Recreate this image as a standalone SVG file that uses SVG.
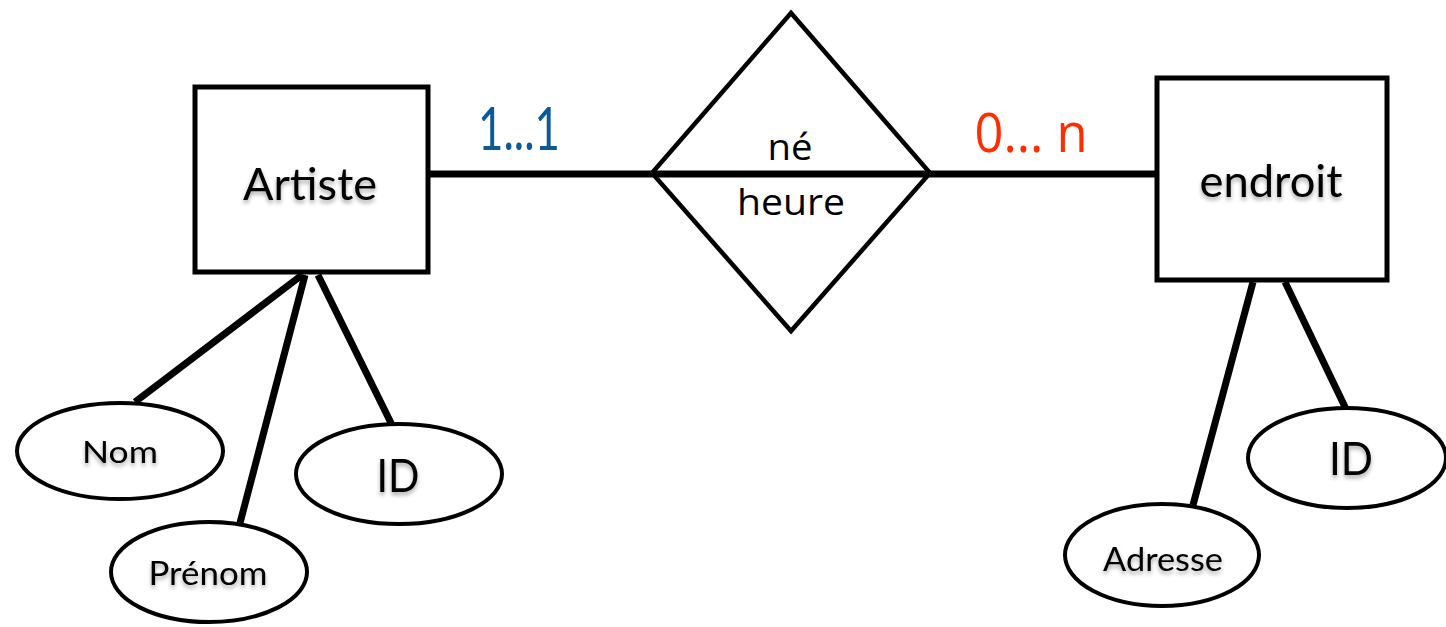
<svg xmlns="http://www.w3.org/2000/svg" width="1446" height="627" viewBox="0 0 1446 627">
<defs>
<filter id="sh" x="-20%" y="-30%" width="140%" height="170%">
<feDropShadow dx="0" dy="3" stdDeviation="2" flood-color="#000" flood-opacity="0.35"/>
</filter>
<style>
.box{fill:#fff;stroke:#000;stroke-width:5}
.ell{fill:#fff;stroke:#000;stroke-width:4}
.dia{fill:#fff;stroke:#000;stroke-width:4.5;stroke-linejoin:miter}
.con{stroke:#000;stroke-width:7;stroke-linecap:butt;fill:none}
.gs{font-family:Lato,"Liberation Sans",sans-serif;text-anchor:middle;fill:#000;filter:url(#sh)}
.os{font-family:"Open Sans","Liberation Sans",sans-serif;text-anchor:middle;fill:#000}
</style>
</defs>
<rect width="1446" height="627" fill="#fff"/>
<g id="connectors">
<line class="con" x1="302" y1="275" x2="135" y2="402"/>
<line class="con" x1="305" y1="275" x2="240" y2="523"/>
<line class="con" x1="318" y1="275" x2="392" y2="425"/>
<line class="con" x1="1253" y1="282" x2="1193" y2="505"/>
<line class="con" x1="1285" y1="282" x2="1346" y2="409"/>
</g>
<g id="relation">
<polygon class="dia" points="791,13 652,173 791,331 930,173"/>
<text class="os" x="790" y="160" font-size="37" textLength="45" lengthAdjust="spacingAndGlyphs">né</text>
<text class="os" x="791" y="215" font-size="37" textLength="108" lengthAdjust="spacingAndGlyphs">heure</text>
</g>
<g id="main-line">
<line class="con" x1="428" y1="174" x2="1158" y2="174"/>
</g>
<g id="artiste">
<rect class="box" x="195" y="87" width="233" height="185"/>
<text class="gs" x="310" y="200" font-size="44" textLength="134" lengthAdjust="spacingAndGlyphs">Artiste</text>
</g>
<g id="endroit">
<rect class="box" x="1157" y="78" width="230" height="202"/>
<text class="gs" x="1271" y="197" font-size="44" textLength="143" lengthAdjust="spacingAndGlyphs">endroit</text>
</g>
<g id="card-left">
<text x="519" y="150" font-family="Lato,'Liberation Sans',sans-serif" font-size="60" fill="#0d5a9b" text-anchor="middle" textLength="82" lengthAdjust="spacingAndGlyphs">1...1</text>
</g>
<g id="card-right">
<text x="1031" y="152" font-family="'Open Sans','Liberation Sans',sans-serif" font-size="54" fill="#ff2d00" text-anchor="middle" textLength="113" lengthAdjust="spacingAndGlyphs">0... n</text>
</g>
<g id="nom">
<ellipse class="ell" cx="120" cy="451" rx="103" ry="48"/>
<text class="gs" x="120" y="463" font-size="30" textLength="76" lengthAdjust="spacingAndGlyphs">Nom</text>
</g>
<g id="prenom">
<ellipse class="ell" cx="209" cy="572" rx="98" ry="50"/>
<text class="gs" x="208" y="585" font-size="32" textLength="119" lengthAdjust="spacingAndGlyphs">Prénom</text>
</g>
<g id="id-artiste">
<ellipse class="ell" cx="399" cy="474" rx="103" ry="50"/>
<text class="gs" x="398" y="492" font-size="46" textLength="43" lengthAdjust="spacingAndGlyphs">ID</text>
</g>
<g id="adresse">
<ellipse class="ell" cx="1162" cy="555" rx="97" ry="51"/>
<text class="gs" x="1163" y="571" font-size="33" textLength="120" lengthAdjust="spacingAndGlyphs">Adresse</text>
</g>
<g id="id-endroit">
<ellipse class="ell" cx="1347" cy="458" rx="99" ry="50"/>
<text class="gs" x="1351" y="475" font-size="46" textLength="44" lengthAdjust="spacingAndGlyphs">ID</text>
</g>
</svg>
